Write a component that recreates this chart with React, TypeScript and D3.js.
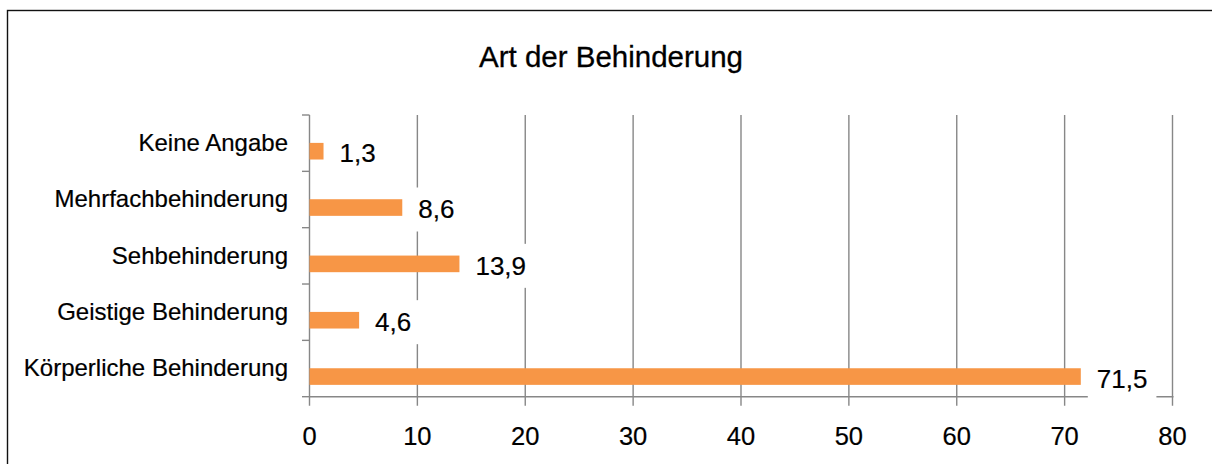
import React, { useEffect, useRef } from 'react';
import * as d3 from 'd3';

// categories listed top to bottom as they appear in the chart
const categories = ["Keine Angabe", "Mehrfachbehinderung", "Sehbehinderung", "Geistige Behinderung", "Körperliche Behinderung"];
const values = [1.3, 8.6, 13.9, 4.6, 71.5];
const xTicks = [0, 10, 20, 30, 40, 50, 60, 70, 80];
const title = "Art der Behinderung";

const width = 1212;
const height = 464;
const left = 309.5;
const right = 1172.5;
const top = 115;
const bottom = 396.7;

const font = "'Liberation Sans', Arial, sans-serif";
const axisColor = "#878787";
const barColor = "#F79646";

function App() {
  const svgRef = useRef<SVGSVGElement>(null);

  useEffect(() => {
    const svg = d3.select(svgRef.current);
    svg.selectAll("*").remove();

    const xScale = d3.scaleLinear().domain([0, 80]).range([left, right]);
    const yScale = d3.scaleBand().domain(categories).range([top, bottom]).padding(0);
    const bw = yScale.bandwidth();

    // outer frame
    svg.append("rect")
      .attr("x", 7.5).attr("y", 10.5)
      .attr("width", 1230).attr("height", 480)
      .attr("fill", "white")
      .attr("stroke", "#111").attr("stroke-width", 1.4);

    // title
    svg.append("text")
      .attr("x", 611).attr("y", 67)
      .attr("text-anchor", "middle")
      .attr("font-family", font).attr("font-size", 29.5)
      .attr("fill", "#000").attr("stroke", "#000").attr("stroke-width", 0.3)
      .text(title);

    // vertical gridlines + ticks below axis
    svg.append("g").selectAll("line")
      .data(xTicks.filter(d => d > 0))
      .join("line")
      .attr("x1", d => xScale(d)).attr("x2", d => xScale(d))
      .attr("y1", top).attr("y2", bottom + 9)
      .attr("stroke", axisColor).attr("stroke-width", 1.4);

    // x axis line and zero tick
    svg.append("line")
      .attr("x1", left).attr("x2", right + 1)
      .attr("y1", bottom).attr("y2", bottom)
      .attr("stroke", axisColor).attr("stroke-width", 1.4);
    svg.append("line")
      .attr("x1", left).attr("x2", left)
      .attr("y1", top).attr("y2", bottom + 9)
      .attr("stroke", axisColor).attr("stroke-width", 1.4);

    // y axis ticks at band boundaries
    const bounds = categories.map(c => yScale(c) as number).concat([bottom]);
    svg.append("g").selectAll("line")
      .data(bounds)
      .join("line")
      .attr("x1", left - 7.5).attr("x2", left)
      .attr("y1", d => d).attr("y2", d => d)
      .attr("stroke", axisColor).attr("stroke-width", 1.4);

    // x tick labels
    svg.append("g").selectAll("text")
      .data(xTicks)
      .join("text")
      .attr("x", d => xScale(d)).attr("y", 445)
      .attr("text-anchor", "middle")
      .attr("font-family", font).attr("font-size", 25.5)
      .attr("fill", "#000").attr("stroke", "#000").attr("stroke-width", 0.2)
      .text(d => d);

    // category labels
    svg.append("g").selectAll("text")
      .data(categories)
      .join("text")
      .attr("x", 288)
      .attr("y", d => (yScale(d) as number) + bw / 2 - 0.5)
      .attr("dy", "0.35em")
      .attr("text-anchor", "end")
      .attr("font-family", font).attr("font-size", 24)
      .attr("fill", "#000").attr("stroke", "#000").attr("stroke-width", 0.2)
      .text(d => d);

    // bars
    svg.append("g").selectAll("rect")
      .data(values)
      .join("rect")
      .attr("x", xScale(0))
      .attr("y", (d, i) => (yScale(categories[i]) as number) + bw * 0.495)
      .attr("width", d => xScale(d) - xScale(0))
      .attr("height", bw * 0.295)
      .attr("fill", barColor);

    // value labels with white background
    const lab = svg.append("g").selectAll("g")
      .data(values)
      .join("g");
    const bg = lab.append("rect").attr("fill", "white");
    const txt = lab.append("text")
      .attr("x", d => xScale(d) + 16)
      .attr("y", (d, i) => (yScale(categories[i]) as number) + bw * 0.64 + 2)
      .attr("dy", "0.35em")
      .attr("font-family", font).attr("font-size", 26)
      .attr("fill", "#000").attr("stroke", "#000").attr("stroke-width", 0.2)
      .text(d => String(d).replace(".", ","));
    txt.each(function (d, i) {
      const b = (this as SVGTextElement).getBBox();
      d3.select(bg.nodes()[i])
        .attr("x", xScale(d) + 7)
        .attr("y", b.y + b.height / 2 - 22)
        .attr("width", b.width + 18)
        .attr("height", 44);
    });
  }, []);

  return (
    <svg ref={svgRef} width={width} height={height}
      style={{ position: 'absolute', left: 0, top: 0, background: 'white' }} />
  );
}

export default App;
